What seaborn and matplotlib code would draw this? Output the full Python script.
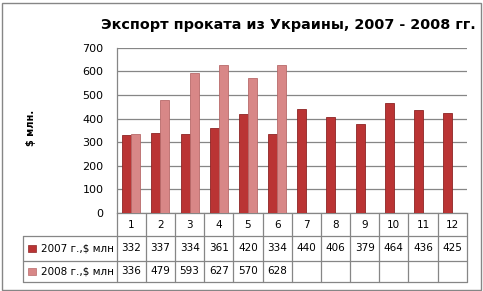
import matplotlib
matplotlib.use("Agg")
import matplotlib.pyplot as plt
import matplotlib.transforms as mtransforms
from matplotlib.patches import Rectangle
import numpy as np
import pandas as pd
import seaborn as sns

months = ["1", "2", "3", "4", "5", "6", "7", "8", "9", "10", "11", "12"]
v2007 = [332, 337, 334, 361, 420, 334, 440, 406, 379, 464, 436, 425]
v2008 = [336, 479, 593, 627, 570, 628, None, None, None, None, None, None]
series_names = ["2007 г.,$ млн", "2008 г.,$ млн"]
title = "Экспорт проката из Украины, 2007 - 2008 гг."
ylabel = "$ млн."
yticks = [0, 100, 200, 300, 400, 500, 600, 700]

colors = ["#BA3434", "#D88787"]
edge_colors = ["#8E2525", "#B86A6A"]

df = pd.DataFrame({
    "month": months * 2,
    "value": [np.nan if v is None else v for v in v2007 + v2008],
    "series": [series_names[0]] * 12 + [series_names[1]] * 12,
})

sns.set_style("white")
plt.rcParams["font.family"] = ["DejaVu Sans"]
plt.rcParams["text.color"] = "black"
plt.rcParams["ytick.color"] = "black"
plt.rcParams["axes.labelcolor"] = "black"

W, H = 483, 291
fig = plt.figure(figsize=(W / 100, H / 100), dpi=100)
ax_l, ax_r, ax_t, ax_b = 116.7, 466.7, 47.7, 213.0
ax = fig.add_axes([ax_l / W, 1 - ax_b / H, (ax_r - ax_l) / W, (ax_b - ax_t) / H])

sns.barplot(data=df, x="month", y="value", hue="series", order=months,
            hue_order=series_names, palette=colors, width=0.62, ax=ax,
            legend=False, errorbar=None, saturation=1)

for i, cont in enumerate(ax.containers):
    for bar in cont:
        bar.set_edgecolor(edge_colors[i])
        bar.set_linewidth(0.6)
        bar.set_zorder(3)

ax.set_xlim(-0.5, 11.5)
ax.set_ylim(0, 700)
ax.set_yticks(yticks)
ax.set_yticklabels([str(t) for t in yticks], fontsize=8, color="black")
ax.yaxis.grid(True, color="#868686", linewidth=0.9)
ax.set_axisbelow(True)
ax.set_xticks([])
ax.set_xlabel("")
ax.set_ylabel("")
for s in ["top", "right"]:
    ax.spines[s].set_visible(False)
for s in ["left", "bottom"]:
    ax.spines[s].set_color("#868686")
    ax.spines[s].set_linewidth(0.9)
ax.tick_params(axis="y", length=0, pad=9.5, left=True)

fig.text(288 / W, 1 - 25 / H, title, ha="center", va="center",
         fontsize=10.4, fontweight="bold", color="black")
fig.text(31 / W, 1 - 128 / H, ylabel, ha="center", va="center",
         rotation=90, fontsize=7, fontweight="bold", color="black")

# data table beneath the axis
trans = mtransforms.blended_transform_factory(ax.transData, ax.transAxes)
ax_h = ax_b - ax_t
row_px = [213.0, 236.0, 260.5, 282.0]
row_y = [-(p - 213.0) / ax_h for p in row_px]
label_left = -0.5 - 93.4 / ((ax_r - ax_l) / 12)
grid_c = "#868686"
lw = 0.9

def hline(y, x0, x1):
    ax.plot([x0, x1], [y, y], transform=trans, color=grid_c, lw=lw, clip_on=False)

def vline(x, y0, y1):
    ax.plot([x, x], [y0, y1], transform=trans, color=grid_c, lw=lw, clip_on=False)

hline(row_y[1], label_left, 11.5)
hline(row_y[2], label_left, 11.5)
hline(row_y[3], label_left, 11.5)
vline(label_left, row_y[1], row_y[3])
for k in range(13):
    vline(-0.5 + k, row_y[0], row_y[3])

for k, m in enumerate(months):
    ax.text(k, (row_y[0] + row_y[1]) / 2, m, transform=trans, ha="center",
            va="center", fontsize=7.5, color="black")

rows = [v2007, v2008]
for r, vals in enumerate(rows):
    yc = (row_y[r + 1] + row_y[r + 2]) / 2
    for k, v in enumerate(vals):
        if v is not None:
            ax.text(k, yc, str(v), transform=trans, ha="center", va="center",
                    fontsize=7.5, color="black")
    ax.text(label_left + 0.6, yc, series_names[r], transform=trans, ha="left",
            va="center", fontsize=7.5, color="black")
    ax.add_patch(Rectangle((label_left + 0.17, yc - 0.022), 0.27, 0.044,
                           transform=trans, facecolor=colors[r],
                           edgecolor=edge_colors[r], lw=0.5, clip_on=False))

# outer border
fig.patches.append(Rectangle((1.5 / W, 1.5 / H), (W - 4) / W, (H - 4) / H,
                             transform=fig.transFigure, fill=False,
                             edgecolor="#868686", lw=1.0))

fig.savefig("out.png", dpi=100)
